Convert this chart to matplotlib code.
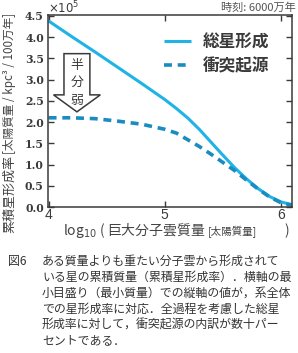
import numpy as np
import matplotlib
matplotlib.use("Agg")
import matplotlib.pyplot as plt
from matplotlib.patches import FancyArrow

plt.rcParams['font.family'] = ['Noto Sans CJK JP', 'DejaVu Sans']

# log10 of giant molecular cloud mass [Msun]
log_mass = [4.0, 4.2, 4.4, 4.6, 4.8, 5.0, 5.1, 5.2, 5.3, 5.4, 5.5,
            5.6, 5.7, 5.8, 5.9, 6.0, 6.1]
# cumulative star formation rate (x 1e5)
total_sf = [4.38, 4.01, 3.65, 3.28, 2.91, 2.53, 2.32, 2.09, 1.82, 1.52, 1.22,
            0.93, 0.67, 0.44, 0.25, 0.12, 0.05]
collision_sf = [2.10, 2.10, 2.08, 2.02, 1.95, 1.83, 1.74, 1.58, 1.42, 1.24, 1.05,
                0.86, 0.64, 0.43, 0.24, 0.10, 0.04]

labels = ['総星形成', '衝突起源']
xticks = [4, 5, 6]
yticks = np.arange(0, 4.51, 0.5)

caption = ['ある質量よりも重たい分子雲から形成されて',
           'いる星の累積質量（累積星形成率）．横軸の最',
           '小目盛り（最小質量）での縦軸の値が，系全体',
           'での星形成率に対応．全過程を考慮した総星',
           '形成率に対して，衝突起源の内訳が数十パー',
           'セントである．']

c_total = '#1fb3e6'
c_coll = '#1a8cc0'
dark = '#3a3a3a'

W, H = 298, 353
fig = plt.figure(figsize=(W / 100, H / 100), dpi=100)
ax = fig.add_axes([48 / W, 1 - 207 / H, (292 - 48) / W, (207 - 15) / H])

ax.plot(log_mass, total_sf, color=c_total, lw=2.2, label=labels[0],
        solid_capstyle='butt')
ax.plot(log_mass, collision_sf, color=c_coll, lw=2.6, ls=(0, (2.2, 1.6)),
        label=labels[1])

ax.set_xlim(3.995, 6.095)
ax.set_ylim(0, 4.52)
ax.set_xticks(xticks)
ax.set_yticks(yticks)
ax.set_yticklabels(['%.1f' % v for v in yticks], family='DejaVu Serif',
                   fontweight='bold', fontsize=7.8, color=dark)
ax.set_xticklabels([str(v) for v in xticks], family='Liberation Sans',
                   fontsize=10, color=dark)
ax.tick_params(direction='in', top=True, right=True, length=4, width=1,
               color=dark, pad=3)
ax.tick_params(axis='x', pad=1)
for s in ax.spines.values():
    s.set_color(dark)
    s.set_linewidth(1.1)

leg = ax.legend(loc='upper left', bbox_to_anchor=(0.475, 0.905), frameon=False,
                handlelength=1.6, handletextpad=0.75, labelspacing=0.35,
                borderpad=0, borderaxespad=0,
                prop={'size': 12, 'weight': 'bold'})
for t in leg.get_texts():
    t.set_color(dark)

# hollow arrow with text
arr = FancyArrow(4.244, 3.61, 0, -1.37, width=0.223, head_width=0.403,
                 head_length=0.40, length_includes_head=True,
                 fc='white', ec=dark, lw=1.1, zorder=3)
ax.add_patch(arr)
ax.text(4.244, 2.93, '半\n分\n弱', ha='center', va='center', fontsize=9.3,
        linespacing=1.45, color=dark, zorder=4)

# offset text and time label
fig.text(48 / W, 1 - 8 / H, r'$\times10^5$', ha='left', va='center',
         family='DejaVu Serif', fontsize=8.5, color=dark)
fig.text(296 / W, 1 - 8 / H, '時刻: 6000万年', ha='right', va='center',
         fontsize=8, color='#555555')

# y label in two sizes
fig.text(10 / W, 1 - 233 / H, '累積星形成率', rotation=90, ha='center',
         va='bottom', fontsize=9.4, color='#444444')
fig.text(10 / W, 1 - 154 / H, '[太陽質量 / kpc³ / 100万年]', rotation=90,
         ha='center', va='bottom', fontsize=8.4, color='#444444')

# x label in two sizes
fig.text(63 / W, 1 - 231 / H, r'log$_{10}$ ( 巨大分子雲質量', ha='left',
         va='center', fontsize=10, color='#444444')
fig.text(208 / W, 1 - 232 / H, '[太陽質量]', ha='left', va='center',
         fontsize=7.6, color='#444444')
fig.text(284 / W, 1 - 231 / H, ')', ha='left', va='center', fontsize=10,
         color='#444444')

# caption
fig.text(8 / W, 1 - 261 / H, '図6', ha='left', va='center', fontsize=8.6,
         color='#333333')
for i, line in enumerate(caption):
    fig.text(42 / W, 1 - (261 + 16 * i) / H, line, ha='left', va='center',
             fontsize=8.6, color='#333333')

fig.savefig('out.png', dpi=100)
